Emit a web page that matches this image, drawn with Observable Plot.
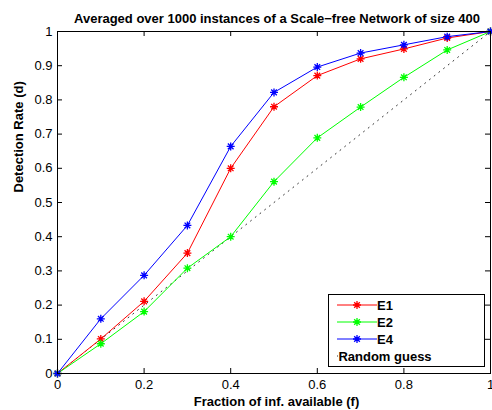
<!DOCTYPE html>
<html>
<head>
<meta charset="utf-8">
<script src="https://cdn.jsdelivr.net/npm/d3@7"></script>
<script src="https://cdn.jsdelivr.net/npm/@observablehq/plot@0.6"></script>
<style>
  body { margin: 0; background: #fff; }
  #chart { position: relative; width: 492px; height: 410px; }
</style>
</head>
<body>
<div id="chart"></div>
<script>
const fractions = [0, 0.1, 0.2, 0.3, 0.4, 0.5, 0.6, 0.7, 0.8, 0.9, 1];
const e1 = [0, 0.101, 0.211, 0.352, 0.600, 0.780, 0.871, 0.920, 0.949, 0.981, 1];
const e2 = [0, 0.087, 0.181, 0.308, 0.400, 0.561, 0.689, 0.779, 0.866, 0.946, 1];
const e4 = [0, 0.160, 0.287, 0.433, 0.664, 0.822, 0.896, 0.937, 0.961, 0.985, 1];
const randomGuess = [[0, 0], [1, 1]];
const seriesNames = ["E1", "E2", "E4"];
const seriesColors = ["#ff0000", "#00ff00", "#0000ff"];
const xTicks = [0, 0.2, 0.4, 0.6, 0.8, 1];
const yTicks = [0, 0.1, 0.2, 0.3, 0.4, 0.5, 0.6, 0.7, 0.8, 0.9, 1];
const title = "Averaged over 1000 instances of a Scale\u2212free Network of size 400";
const xLabel = "Fraction of inf. available (f)";
const yLabel = "Detection Rate (d)";
const legendLabels = ["E1", "E2", "E4", "Random guess"];

const seriesValues = [e1, e2, e4];
const rows = [];
seriesNames.forEach((s, i) => fractions.forEach((f, j) => rows.push({series: s, f, d: seriesValues[i][j]})));

// MATLAB-style 8-armed asterisk marker
const star8 = {
  draw(context, size) {
    const r = Math.sqrt(size / Math.PI);
    const k = r * Math.SQRT1_2;
    context.moveTo(-r, 0); context.lineTo(r, 0);
    context.moveTo(0, -r); context.lineTo(0, r);
    context.moveTo(-k, -k); context.lineTo(k, k);
    context.moveTo(-k, k); context.lineTo(k, -k);
  }
};
const markerR = 4;

const W = 492, H = 410, mL = 57, mR = 2, mT = 31, mB = 37;
const tickLen = 5;
const tx = tickLen / (W - mL - mR), ty = tickLen / (H - mT - mB);
const FONT = "'Liberation Sans', Arial, sans-serif";

const plot = Plot.plot({
  width: W, height: H,
  marginLeft: mL, marginRight: mR, marginTop: mT, marginBottom: mB,
  style: {fontFamily: FONT, fontSize: "13px", background: "#fff", overflow: "visible"},
  x: {domain: [0, 1]},
  y: {domain: [0, 1]},
  color: {domain: seriesNames, range: seriesColors},
  marks: [
    Plot.line(randomGuess, {x: d => d[0], y: d => d[1], stroke: "#333", strokeWidth: 1, strokeDasharray: "1,5"}),
    Plot.line(rows, {x: "f", y: "d", stroke: "series", strokeWidth: 1}),
    Plot.dot(rows, {x: "f", y: "d", stroke: "series", symbol: star8, r: markerR, strokeWidth: 1.3}),
    Plot.ruleX(xTicks, {x: d => d, y1: 0, y2: ty, stroke: "black"}),
    Plot.ruleX(xTicks, {x: d => d, y1: 1, y2: 1 - ty, stroke: "black"}),
    Plot.ruleY(yTicks, {y: d => d, x1: 0, x2: tx, stroke: "black"}),
    Plot.ruleY(yTicks, {y: d => d, x1: 1, x2: 1 - tx, stroke: "black"}),
    Plot.frame({stroke: "black", strokeWidth: 1}),
    Plot.axisX({ticks: xTicks, tickSize: 0, tickPadding: 6, tickFormat: d => String(d), label: null, fontSize: 13, fill: "black"}),
    Plot.axisY({ticks: yTicks, tickSize: 0, tickPadding: 5, tickFormat: d => String(d), label: null, fontSize: 13, fill: "black"}),
    Plot.text([title], {text: d => d, frameAnchor: "top", dy: -18, dx: 3, fontWeight: "bold", fontSize: 13, fill: "black"}),
    Plot.text([xLabel], {text: d => d, frameAnchor: "bottom", lineAnchor: "middle", dy: 28, dx: 2.5, fontWeight: "bold", fontSize: 13, fill: "black"}),
    Plot.text([yLabel], {text: d => d, frameAnchor: "left", rotate: -90, dx: -39, dy: -10, fontWeight: "bold", fontSize: 13, fill: "black"})
  ]
});
document.getElementById("chart").appendChild(plot);

// legend box (MATLAB style)
const svg = d3.select(plot);
const lg = svg.append("g").attr("font-family", FONT).attr("font-size", 13).attr("font-weight", "bold");
lg.append("rect").attr("x", 328.5).attr("y", 294.5).attr("width", 156).attr("height", 72).attr("fill", "white").attr("stroke", "black");
const rowY = [305, 322, 339, 356];
const symPath = d3.symbol(star8, Math.PI * markerR * markerR)();
legendLabels.forEach((lab, i) => {
  const y = rowY[i];
  if (i < 3) {
    lg.append("line").attr("x1", 337).attr("x2", 377).attr("y1", y).attr("y2", y).attr("stroke", seriesColors[i]);
    lg.append("path").attr("d", symPath).attr("transform", `translate(357,${y})`).attr("fill", "none").attr("stroke", seriesColors[i]).attr("stroke-width", 1.3);
  } else {
    lg.append("line").attr("x1", 337).attr("x2", 377).attr("y1", y).attr("y2", y).attr("stroke", "#333").attr("stroke-dasharray", "1,5");
  }
  lg.append("text").attr("x", 385).attr("y", y).attr("dy", "0.35em").attr("fill", "black").text(lab);
});
</script>
</body>
</html>
